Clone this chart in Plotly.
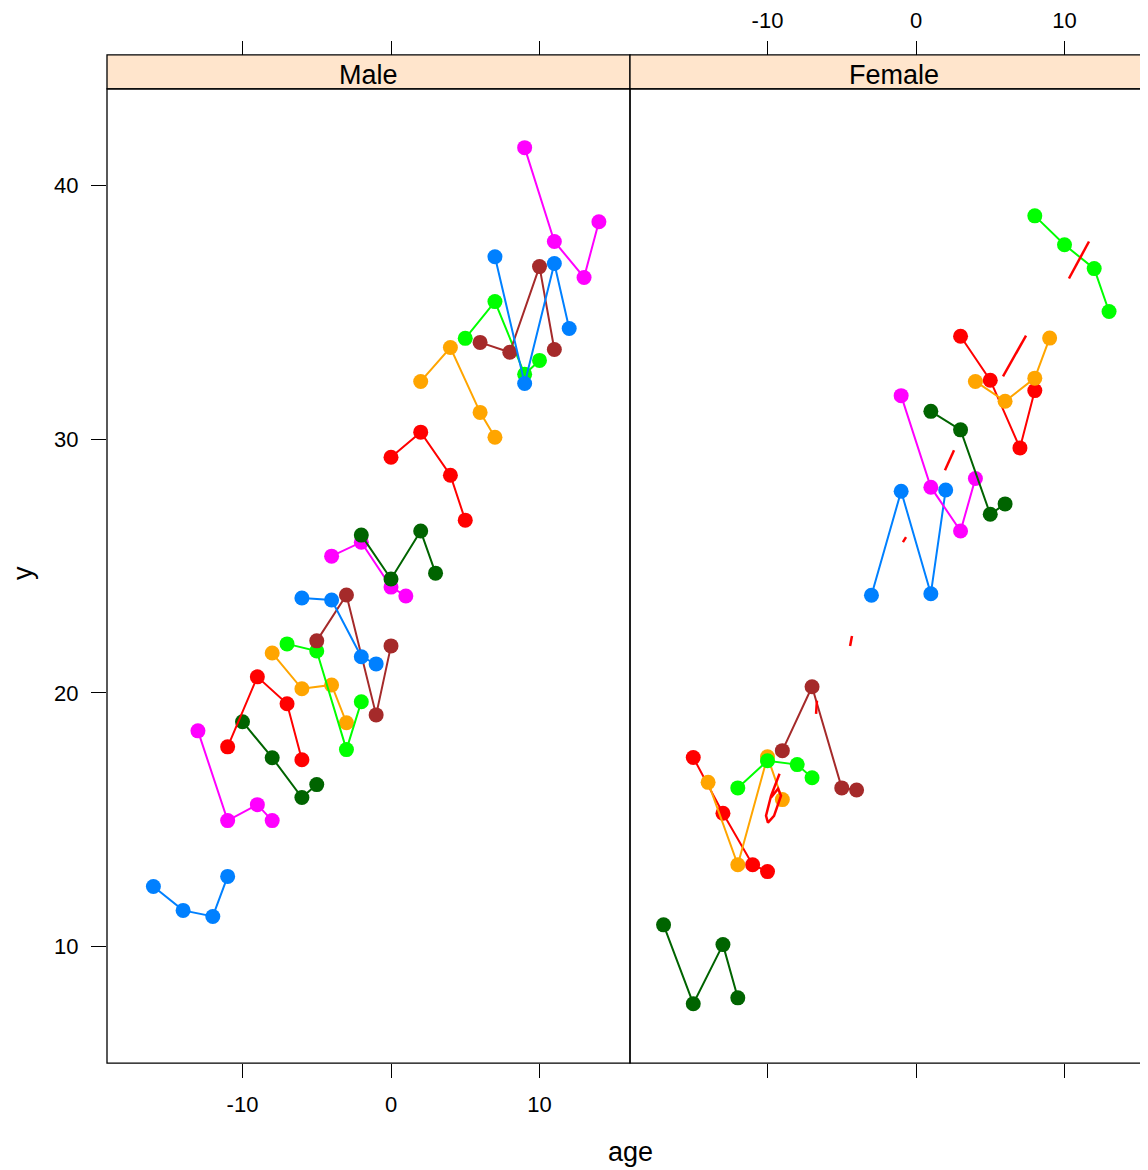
import plotly.graph_objects as go

# ---------------- data ----------------
panels = ["Male", "Female"]
palette = ["#0080ff", "#ff00ff", "#006400", "#ff0000", "#ffa500", "#00ff00", "#a52a2a"]

male_age = [
    [-16, -14, -12, -11], [-13, -11, -9, -8], [-10, -8, -6, -5], [-11, -9, -7, -6],
    [-8, -6, -4, -3], [-7, -5, -3, -2], [-5, -3, -1, 0], [-6, -4, -2, -1],
    [-4, -2, 0, 1], [-2, 0, 2, 3], [0, 2, 4, 5], [2, 4, 6, 7],
    [5, 7, 9, 10], [6, 8, 10, 11], [7, 9, 11, 12], [9, 11, 13, 14],
]
male_y = [
    [12.36, 11.42, 11.18, 12.76], [18.50, 14.96, 15.59, 14.96], [18.86, 17.44, 15.87, 16.38],
    [17.87, 20.63, 19.57, 17.36], [21.57, 20.16, 20.31, 18.82], [21.93, 21.65, 17.76, 19.65],
    [22.05, 23.86, 19.13, 21.85], [23.74, 23.66, 21.42, 21.14], [25.39, 25.94, 24.17, 23.82],
    [26.22, 24.49, 26.38, 24.72], [29.29, 30.28, 28.58, 26.81], [32.28, 33.62, 31.06, 30.08],
    [33.98, 35.43, 32.56, 33.11], [33.82, 33.43, 36.81, 33.54], [37.20, 32.20, 36.93, 34.37],
    [41.50, 37.80, 36.38, 38.58],
]
female_age = [
    [-17, -15, -13, -12], [-15, -13, -11, -10], [-14, -12, -10, -9], [-12, -10, -8, -7],
    [-9, -7, -5, -4], [-3, -1, 1, 2], [-1, 1, 3, 4], [1, 3, 5, 6],
    [3, 5, 7, 8], [4, 6, 8, 9], [8, 10, 12, 13],
]
female_y = [
    [10.85, 7.74, 10.07, 7.97], [17.45, 15.25, 13.22, 12.95], [16.47, 13.22, 17.48, 15.79],
    [16.25, 17.32, 17.17, 16.65], [17.72, 20.24, 16.25, 16.17], [23.85, 27.95, 23.91, 28.00],
    [31.72, 28.11, 26.38, 28.45], [31.10, 30.37, 27.04, 27.45], [34.06, 32.33, 29.66, 31.92],
    [32.28, 31.50, 32.41, 33.99], [38.81, 37.67, 36.73, 35.04],
]
# stray red strokes seen in the Female panel
female_red_x = [-9.19, -9.76, -10.10, -9.97, -9.56, -9.09, -9.29, -9.76, None,
                -6.67, -6.73, None, -4.31, -4.44, None, -0.88, -0.67, None,
                2.56, 1.95, None, 7.41, 5.86, None, 11.65, 10.30]
female_red_y = [16.81, 15.94, 15.15, 14.88, 15.15, 15.94, 16.22, 15.87, None,
                19.69, 19.17, None, 22.24, 21.85, None, 25.94, 26.14, None,
                29.57, 28.78, None, 34.09, 32.48, None, 37.80, 36.34]

x_ticks = [-10, 0, 10]
x_tick_text = ["-10", "0", "10"]
y_ticks = [10, 20, 30, 40]
y_tick_text = ["10", "20", "30", "40"]

# ---------------- layout geometry (page pixels; page body has 8px margin) ----------------
OFF = 8
W, H = 1148 - OFF, 1170 - OFF
px_l, px_m, px_r = 107, 630, 1148
py_top, py_bot, strip_top = 87, 1063, 53


def fx(p):
    return (p - OFF) / W


def fy(p):
    return (H - (p - OFF)) / H


FONT = "Liberation Sans, Arial, Helvetica, sans-serif"

fig = go.Figure()

n_male = len(male_age)
for i, (xs, ys) in enumerate(zip(male_age, male_y)):
    c = palette[i % len(palette)]
    fig.add_trace(go.Scatter(x=xs, y=ys, mode="lines+markers", xaxis="x", yaxis="y",
                             line=dict(color=c, width=2),
                             marker=dict(color=c, size=15, symbol="circle"),
                             showlegend=False, hoverinfo="skip"))
for j, (xs, ys) in enumerate(zip(female_age, female_y)):
    c = palette[(n_male + j) % len(palette)]
    fig.add_trace(go.Scatter(x=xs, y=ys, mode="lines+markers", xaxis="x2", yaxis="y",
                             line=dict(color=c, width=2),
                             marker=dict(color=c, size=15, symbol="circle"),
                             showlegend=False, hoverinfo="skip"))
fig.add_trace(go.Scatter(x=female_red_x, y=female_red_y, mode="lines", xaxis="x2", yaxis="y",
                         line=dict(color="#ff0000", width=2.5), connectgaps=False,
                         showlegend=False, hoverinfo="skip"))
# dummy traces for the top tick axes
fig.add_trace(go.Scatter(x=[], y=[], xaxis="x3", yaxis="y", showlegend=False))
fig.add_trace(go.Scatter(x=[], y=[], xaxis="x4", yaxis="y", showlegend=False))

unit = 14.85
rng_l = [(px_l - 391) / unit, (px_m - 391) / unit]
rng_r = [(px_m - 916) / unit, (px_r - 916) / unit]
y_rng = [10 - (py_bot - 946) / 25.4, 40 + (184 - py_top) / 25.4]

tickfont = dict(family=FONT, size=22, color="black")
common_x = dict(showgrid=False, zeroline=False, showline=False, ticks="outside",
                ticklen=14, tickwidth=1, tickcolor="black", tickvals=x_ticks,
                ticktext=x_tick_text, tickfont=tickfont)

fig.update_layout(
    width=W, height=H, autosize=False,
    margin=dict(l=0, r=0, t=0, b=0),
    paper_bgcolor="white", plot_bgcolor="white",
    xaxis=dict(domain=[fx(px_l), fx(px_m)], range=rng_l, anchor="y",
               showticklabels=True, ticklabelstandoff=7, **common_x),
    xaxis2=dict(domain=[fx(px_m), 1.0], range=rng_r, anchor="y",
                showticklabels=False, **common_x),
    xaxis3=dict(domain=[fx(px_l), fx(px_m)], range=rng_l, anchor="free",
                overlaying="x", side="top", position=fy(strip_top),
                showticklabels=False, **common_x),
    xaxis4=dict(domain=[fx(px_m), 1.0], range=rng_r, anchor="free",
                overlaying="x2", side="top", position=fy(strip_top),
                showticklabels=True, ticklabelstandoff=4, **common_x),
    yaxis=dict(domain=[fy(py_bot), fy(py_top)], range=y_rng, anchor="x",
               showgrid=False, zeroline=False, showline=False, ticks="outside",
               ticklen=15, tickwidth=1, tickcolor="black", tickvals=y_ticks,
               ticktext=y_tick_text, tickfont=tickfont, ticklabelstandoff=8),
)

shapes = []
# panel borders
shapes.append(dict(type="rect", xref="paper", yref="paper", x0=fx(px_l), x1=fx(px_m),
                   y0=fy(py_bot), y1=fy(py_top), line=dict(color="black", width=1.3),
                   fillcolor="rgba(0,0,0,0)", layer="above"))
shapes.append(dict(type="rect", xref="paper", yref="paper", x0=fx(px_m), x1=fx(1160),
                   y0=fy(py_bot), y1=fy(py_top), line=dict(color="black", width=1.3),
                   fillcolor="rgba(0,0,0,0)", layer="above"))
# strips
for a, b in [(px_l, px_m), (px_m, 1160)]:
    shapes.append(dict(type="rect", xref="paper", yref="paper", x0=fx(a), x1=fx(b),
                       y0=fy(py_top), y1=fy(strip_top), line=dict(color="black", width=1.3),
                       fillcolor="#ffe5cc", layer="below"))
fig.update_layout(shapes=shapes)

annotations = [
    dict(text=panels[0], x=fx((px_l + px_m) / 2), y=fy(73), xref="paper", yref="paper",
         showarrow=False, font=dict(family=FONT, size=27, color="black"),
         xanchor="center", yanchor="middle"),
    dict(text=panels[1], x=fx(894), y=fy(73), xref="paper", yref="paper",
         showarrow=False, font=dict(family=FONT, size=27, color="black"),
         xanchor="center", yanchor="middle"),
    dict(text="age", x=fx(630), y=fy(1152), xref="paper", yref="paper",
         showarrow=False, font=dict(family=FONT, size=27, color="black"),
         xanchor="center", yanchor="middle"),
    dict(text="y", x=fx(23), y=fy(572), xref="paper", yref="paper", textangle=-90,
         showarrow=False, font=dict(family=FONT, size=27, color="black"),
         xanchor="center", yanchor="middle", borderpad=0),
]
fig.update_layout(annotations=annotations)

fig.write_html("out.html")
